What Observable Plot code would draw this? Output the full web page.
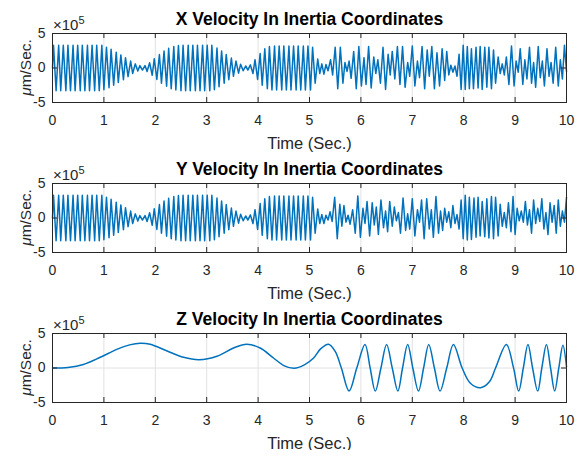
<!DOCTYPE html>
<html><head><meta charset="utf-8">
<script src="https://cdn.jsdelivr.net/npm/d3@7"></script>
<script src="https://cdn.jsdelivr.net/npm/@observablehq/plot@0.6"></script>
<style>
body{margin:0;background:#fff;}
#c svg{display:block;}
</style>
</head><body><div id="c"></div>
<script>
// ---- axis values ----
const xTicks = [0,1,2,3,4,5,6,7,8,9,10];
const yTicks = [-5,0,5];
const titles = ["X Velocity In Inertia Coordinates","Y Velocity In Inertia Coordinates","Z Velocity In Inertia Coordinates"];
const xLabel = "Time (Sec.)";

// ---- dense (beating) part: extremum times (s) and values (x10^5 um/s) ----
const denseT = [0,0.02,0.07,0.12,0.16,0.21,0.26,0.30,0.35,0.40,0.44,0.49,0.54,0.58,0.63,0.68,0.72,0.77,0.82,0.86,0.91,0.96,1.00,1.05,1.10,1.14,1.19,1.24,1.28,1.33,1.38,1.42,1.47,1.52,1.56,1.61,1.66,1.70,1.75,1.80,1.84,1.89,1.94,1.98,2.03,2.08,2.12,2.17,2.22,2.26,2.31,2.36,2.40,2.45,2.50,2.54,2.59,2.64,2.68,2.73,2.78,2.82,2.87,2.92,2.96,3.01,3.06,3.10,3.15,3.20,3.24,3.29,3.34,3.38,3.43,3.48,3.52,3.57,3.62,3.66,3.71,3.76,3.80,3.85,3.90,3.94,3.99,4.04,4.08,4.13,4.18,4.22,4.27,4.32,4.36,4.41,4.46,4.50,4.55,4.60,4.64,4.69,4.74,4.78,4.83,4.88,4.92,4.97,5.02,5.06,5.11,5.16,5.20];
const xDenseV = [0,
 3.3,-3.3,3.3,-3.3,3.3,-3.3,3.3,-3.3,3.3,-3.3,3.3,-3.3,3.3,-3.3,3.3,-3.3,3.3,-3.3,3.3,-3.3,3.3,
 -3.15,3.0,-2.85,2.7,-2.5,2.3,-2.1,1.9,-1.7,1.5,-1.25,1.0,-0.8,0.6,-0.45,0.35,-0.3,0.35,-0.5,0.75,-1.05,1.35,-1.65,1.95,-2.2,2.45,-2.65,2.85,-3.0,3.1,-3.2,3.25,
 -3.3,3.3,-3.3,3.3,-3.3,3.3,-3.3,3.3,-3.3,3.3,-3.3,3.3,-3.3,3.3,
 -3.15,2.9,-2.7,2.45,-2.2,1.95,-1.7,1.45,-1.2,1.0,-0.75,0.55,-0.4,0.3,-0.3,0.45,-0.8,1.2,-1.65,2.1,-2.5,2.8,-3.0,3.1,-3.2,
 3.2,-3.2,3.2,-3.2,3.2,-3.2,3.2,-3.2,3.2,-3.2,3.2,-3.2,3.2,-3.2,3.2,-3.2,
 3.0,-2.2,1.3,-0.8];
const yDenseV = [0,
 3.3,-3.3,3.3,-3.3,3.3,-3.3,3.3,-3.3,3.3,-3.3,3.3,-3.3,3.3,-3.3,3.3,-3.3,3.3,-3.3,3.3,-3.3,3.3,
 -3.15,3.0,-2.85,2.7,-2.5,2.3,-2.1,1.9,-1.7,1.5,-1.25,1.0,-0.8,0.6,-0.45,0.35,-0.3,0.35,-0.5,0.75,-1.05,1.35,-1.65,1.95,-2.2,2.45,-2.65,2.85,-3.0,3.1,-3.2,3.25,
 -3.3,3.3,-3.3,3.3,-3.3,3.3,-3.3,3.3,-3.3,3.3,-3.3,3.3,-3.3,3.3,
 -3.15,2.9,-2.7,2.45,-2.2,1.95,-1.7,1.45,-1.2,1.0,-0.75,0.55,-0.4,0.3,-0.3,0.45,-0.8,1.2,-1.65,2.1,-2.5,2.8,-3.0,3.1,-3.2,
 3.2,-3.2,3.2,-3.2,3.2,-3.2,3.2,-3.2,3.2,-3.2,3.2,-3.2,3.2,-3.2,3.2,-3.2,
 3.0,-2.2,1.3,-0.8];

// ---- irregular part after 5.2 s: [time, value] extrema ----
const xTail = [[5.24,0.6],[5.28,-0.9],[5.32,0.5],[5.36,-0.4],[5.41,1.2],[5.45,-1.0],[5.50,3.0],[5.55,-3.0],[5.60,3.0],[5.65,-2.2],[5.69,0.8],[5.73,-0.5],[5.77,1.0],[5.81,-1.5],[5.86,2.4],[5.91,-3.0],[5.96,3.1],[6.01,-2.6],[6.06,1.5],[6.10,-2.4],[6.15,3.1],[6.20,-2.9],[6.25,1.6],[6.29,-0.8],[6.33,1.2],[6.38,-2.2],[6.43,3.0],[6.48,-3.1],[6.53,2.0],[6.57,-1.0],[6.61,2.4],[6.66,-1.6],[6.71,3.1],[6.76,-2.4],[6.81,3.1],[6.86,-2.8],[6.91,0.8],[6.95,-1.2],[7.00,3.2],[7.05,-2.6],[7.10,1.0],[7.14,-1.4],[7.19,3.1],[7.24,-3.0],[7.29,2.6],[7.33,-1.2],[7.38,3.1],[7.43,-3.0],[7.48,2.2],[7.53,-2.6],[7.58,2.8],[7.63,-1.8],[7.67,2.4],[7.71,-1.0],[7.75,0.4],[7.79,-0.6],[7.83,0.3],[7.87,-1.2],[7.91,2.0],[7.95,-3.1],[7.99,3.3],[8.03,-3.1],[8.07,3.1],[8.11,-3.0],[8.15,2.8],[8.19,-3.0],[8.24,3.0],[8.28,-2.9],[8.32,3.1],[8.36,-3.1],[8.41,3.0],[8.45,-2.8],[8.49,3.0],[8.54,-3.0],[8.58,2.6],[8.62,-2.2],[8.67,1.6],[8.71,-0.8],[8.75,0.6],[8.79,-1.0],[8.83,1.6],[8.88,-2.4],[8.93,3.2],[8.98,-2.6],[9.02,1.0],[9.06,-0.6],[9.10,2.8],[9.15,-2.4],[9.19,1.2],[9.23,-1.6],[9.28,3.0],[9.32,-2.2],[9.36,0.8],[9.40,-2.8],[9.45,3.1],[9.49,-1.4],[9.53,1.0],[9.57,-2.6],[9.62,2.8],[9.66,-1.2],[9.70,0.8],[9.74,-2.2],[9.79,3.0],[9.84,-2.6],[9.88,1.2],[9.92,-1.6],[9.96,3.3],[10.0,-0.5]];
const yTail = [[5.24,0.5],[5.28,-0.8],[5.32,0.4],[5.36,-0.3],[5.40,0.9],[5.44,-0.5],[5.49,3.0],[5.54,-3.0],[5.59,2.0],[5.63,-1.2],[5.67,1.8],[5.71,-0.6],[5.75,0.4],[5.79,-0.9],[5.84,1.2],[5.89,-2.2],[5.94,3.2],[5.99,-2.8],[6.04,1.4],[6.08,-0.8],[6.12,2.4],[6.17,-2.6],[6.22,2.2],[6.26,-1.0],[6.30,1.6],[6.34,-2.4],[6.39,2.6],[6.44,-1.4],[6.48,1.0],[6.52,-2.0],[6.56,2.4],[6.61,-1.2],[6.65,1.6],[6.69,-0.4],[6.73,0.8],[6.77,-2.2],[6.82,2.9],[6.87,-1.8],[6.91,0.6],[6.95,-1.6],[7.00,2.8],[7.05,-2.6],[7.10,1.2],[7.14,-0.6],[7.18,2.6],[7.23,-3.0],[7.28,2.8],[7.33,-1.6],[7.37,1.2],[7.41,-2.8],[7.46,3.1],[7.51,-2.2],[7.55,1.0],[7.59,-1.8],[7.63,1.4],[7.67,-0.6],[7.71,0.9],[7.75,-1.4],[7.79,1.8],[7.83,-0.8],[7.87,0.5],[7.91,-1.6],[7.95,2.6],[7.99,-3.0],[8.03,3.3],[8.07,-3.2],[8.11,3.0],[8.15,-3.1],[8.20,2.9],[8.24,-2.8],[8.28,3.0],[8.32,-2.6],[8.36,2.4],[8.41,-2.7],[8.45,2.8],[8.49,-2.9],[8.54,3.1],[8.58,-3.0],[8.62,3.0],[8.67,-2.6],[8.71,2.0],[8.75,-1.2],[8.79,0.8],[8.83,-1.4],[8.87,2.2],[8.92,-2.0],[8.96,3.1],[9.00,-2.4],[9.04,1.4],[9.08,-0.4],[9.12,1.0],[9.16,-0.6],[9.20,2.4],[9.24,-1.0],[9.28,1.2],[9.32,-2.2],[9.36,2.6],[9.40,-0.8],[9.44,1.4],[9.48,-0.5],[9.52,2.8],[9.56,-1.6],[9.60,0.8],[9.64,-2.4],[9.68,2.2],[9.72,-0.6],[9.76,1.8],[9.80,-2.2],[9.84,2.6],[9.88,-1.2],[9.92,1.0],[9.96,-0.6],[10.0,3.0]];

// ---- Z velocity: [time, value] ----
const zPts = [[0,0],[0.3,0.08],[0.6,0.5],[0.93,1.55],[1.25,2.7],[1.5,3.35],[1.71,3.6],[1.9,3.45],[2.22,2.5],[2.55,1.55],[2.85,1.2],[3.2,1.7],[3.52,2.9],[3.78,3.45],[4.04,2.9],[4.3,1.45],[4.5,0.35],[4.7,-0.05],[4.9,0.45],[5.08,1.45],[5.22,2.8],[5.37,3.45],[5.5,2.4],[5.62,0],[5.77,-3.35],[5.92,0],[6.08,3.4],[6.18,0],[6.28,-3.35],[6.39,0],[6.5,3.4],[6.61,0],[6.72,-3.35],[6.81,0],[6.91,3.4],[7.01,0],[7.12,-3.35],[7.22,0],[7.32,3.4],[7.43,0],[7.54,-3.35],[7.67,0],[7.8,3.4],[7.97,0],[8.13,-2.2],[8.33,-2.85],[8.5,-2.0],[8.62,0],[8.83,3.4],[8.97,0],[9.07,-3.35],[9.16,0],[9.25,3.4],[9.34,0],[9.44,-3.35],[9.52,0],[9.61,3.4],[9.69,0],[9.77,-3.35],[9.85,0],[9.93,3.3],[10,0.2]];

// ---- build tables ----
const toRows = pairs => pairs.map(([t, v]) => ({t, v}));
const xData = denseT.map((t, i) => ({t, v: xDenseV[i]})).concat(toRows(xTail));
const yData = denseT.map((t, i) => ({t, v: yDenseV[i]})).concat(toRows(yTail));
const zData = toRows(zPts);

const FONT = "'Liberation Sans', Arial, Helvetica, sans-serif";
const W = 582, H = 150, ML = 52, MR = 16, MT = 33, MB = 48;
const FW = W - ML - MR, FH = H - MT - MB;
const INK = "#262626", GRID = "#e2e2e2";

function panel(title, data, curve) {
  const svg = Plot.plot({
    width: W, height: H,
    marginTop: MT, marginBottom: MB, marginLeft: ML, marginRight: MR,
    style: {fontFamily: FONT, fontSize: "14px", color: INK, background: "#fff", overflow: "visible"},
    x: {domain: [0, 10]},
    y: {domain: [-5, 5]},
    marks: [
      Plot.ruleX(xTicks.filter(d => d > 0 && d < 10), {x: d => d, stroke: GRID, strokeWidth: 1}),
      Plot.ruleY([0], {y: d => d, stroke: GRID, strokeWidth: 1}),
      Plot.line(data, {x: "t", y: "v", stroke: "#0072BD", strokeWidth: 1.5, curve}),
      Plot.frame({stroke: INK, strokeWidth: 1}),
      Plot.tickX(xTicks, {x: d => d, stroke: INK, insetBottom: FH - 5}),
      Plot.tickX(xTicks, {x: d => d, stroke: INK, insetTop: FH - 5}),
      Plot.tickY(yTicks, {y: d => d, stroke: INK, insetRight: FW - 5}),
      Plot.tickY(yTicks, {y: d => d, stroke: INK, insetLeft: FW - 5}),
      Plot.axisX({ticks: xTicks, tickSize: 0, tickPadding: 13, label: null, tickFormat: d => String(d)}),
      Plot.axisY({ticks: yTicks, tickSize: 0, tickPadding: 7, label: null, tickFormat: d => String(d)}),
      Plot.text([title], {text: d => d, frameAnchor: "top", lineAnchor: "middle", dy: -14, fontSize: 17.5, fontWeight: "bold", fill: "#000"}),
      Plot.text([xLabel], {text: d => d, frameAnchor: "bottom", lineAnchor: "middle", dy: 41, fontSize: 16.5, fill: INK})
    ]
  });
  const s = d3.select(svg);
  // exponent label
  const ex = s.append("text").attr("x", ML + 1).attr("y", 30).attr("font-size", 15)
    .attr("text-anchor", "start").attr("fill", INK).attr("font-family", FONT);
  ex.append("tspan").text("×10");
  ex.append("tspan").attr("font-size", 11).attr("dy", -6).text("5");
  // y label
  const yl = s.append("text").attr("transform", `translate(26,${MT + FH / 2}) rotate(-90)`)
    .attr("text-anchor", "middle").attr("dy", "0.35em").attr("font-size", 15.5)
    .attr("fill", INK).attr("font-family", FONT);
  yl.append("tspan").attr("font-style", "italic").text("μ");
  yl.append("tspan").text("m/Sec.");
  return svg;
}

const c = document.getElementById("c");
c.appendChild(panel(titles[0], xData, "linear"));
c.appendChild(panel(titles[1], yData, "linear"));
c.appendChild(panel(titles[2], zData, "catmull-rom"));
</script>
</body></html>
